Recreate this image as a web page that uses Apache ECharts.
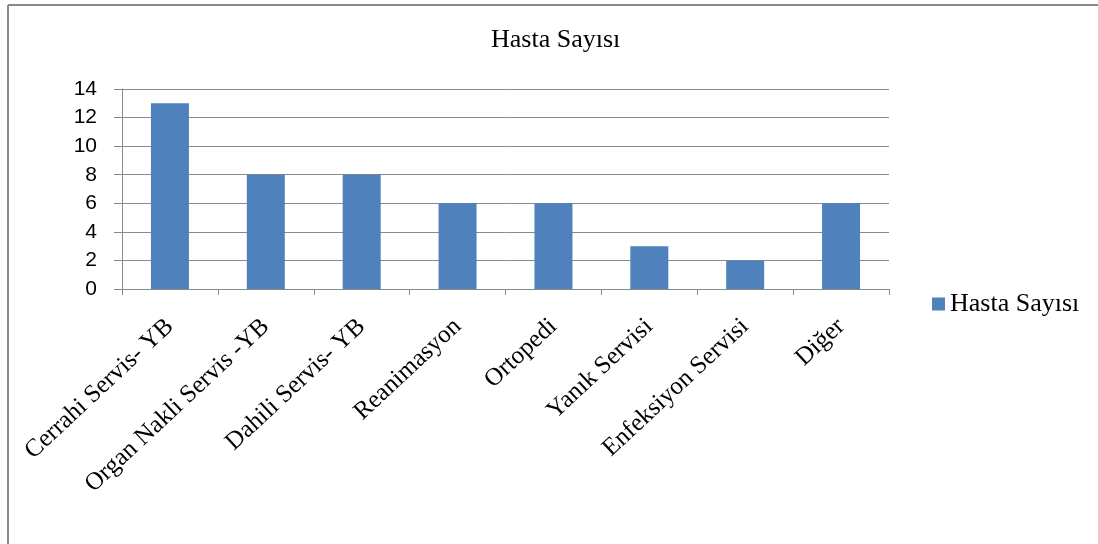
<!DOCTYPE html>
<html>
<head>
<meta charset="utf-8">
<script src="https://cdn.jsdelivr.net/npm/echarts@6/dist/echarts.min.js"></script>
<style>
html,body{margin:0;padding:0;background:#fff;}
#c{width:1098px;height:544px;}
</style>
</head>
<body>
<div id="c"></div>
<script>
var titleText = 'Hasta Sayısı';
var seriesName = 'Hasta Sayısı';
var categories = ['Cerrahi Servis- YB', 'Organ Nakli Servis -YB', 'Dahili Servis- YB', 'Reanimasyon', 'Ortopedi', 'Yanık Servisi', 'Enfeksiyon Servisi', 'Diğer'];
var values = [13, 8, 8, 6, 6, 3, 2, 6];
var yTicks = [0, 2, 4, 6, 8, 10, 12, 14];

var chart = echarts.init(document.getElementById('c'), null, {renderer: 'canvas'});
var gray = '#898989';
chart.setOption({
  animation: false,
  backgroundColor: '#fff',
  title: {
    text: titleText,
    left: 491, top: 27,
    padding: 0,
    textStyle: {fontFamily: 'Liberation Serif', fontSize: 26, fontWeight: 'normal', color: '#000'}
  },
  legend: {
    data: [seriesName],
    left: 932, top: 291,
    padding: 0,
    icon: 'rect', itemWidth: 13, itemHeight: 13, itemGap: 5,
    textStyle: {fontFamily: 'Liberation Serif', fontSize: 26, color: '#000'}
  },
  graphic: [
    {type: 'line', shape: {x1: 8, y1: 5, x2: 1098, y2: 5}, style: {stroke: '#8a8a8a', lineWidth: 2}},
    {type: 'line', shape: {x1: 8, y1: 5, x2: 8, y2: 544}, style: {stroke: '#8a8a8a', lineWidth: 2}}
  ],
  grid: {left: 122, right: 209, top: 89, bottom: 255, containLabel: false},
  xAxis: {
    type: 'category',
    data: categories,
    axisLine: {show: true, lineStyle: {color: gray, width: 1}},
    axisTick: {show: true, length: 6, lineStyle: {color: gray}},
    axisLabel: {rotate: 43, margin: 34, interval: 0, fontFamily: 'Liberation Serif', fontSize: 25, color: '#000'}
  },
  yAxis: {
    type: 'value',
    min: 0, max: 14, interval: 2,
    axisLine: {show: true, lineStyle: {color: gray, width: 1}},
    axisTick: {show: true, length: 8, lineStyle: {color: gray}},
    splitLine: {show: true, lineStyle: {color: gray, width: 1}},
    axisLabel: {margin: 25, fontFamily: 'Liberation Sans', fontSize: 21, color: '#000',
      formatter: function (v) { return yTicks.indexOf(v) >= 0 ? String(v) : ''; }}
  },
  series: [{
    name: seriesName,
    type: 'bar',
    data: values,
    barWidth: 38,
    itemStyle: {color: '#4F81BD'}
  }]
});
</script>
</body>
</html>
